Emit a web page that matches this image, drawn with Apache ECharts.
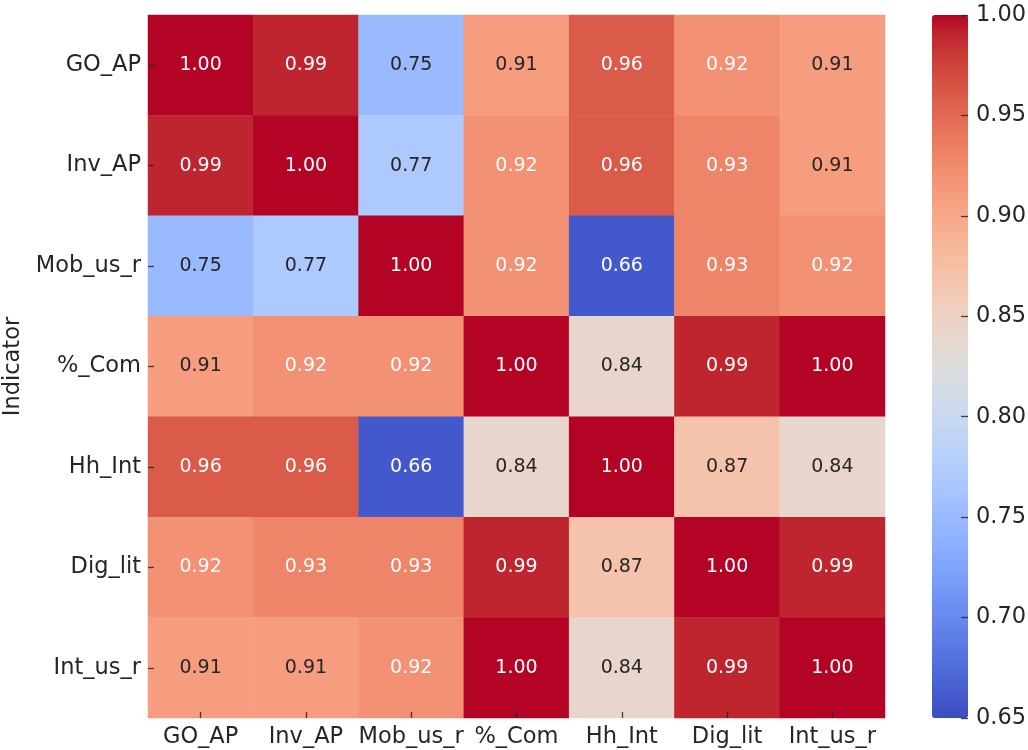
<!DOCTYPE html>
<html>
<head>
<meta charset="utf-8">
<script src="https://cdn.jsdelivr.net/npm/echarts@6/dist/echarts.min.js"></script>
<style>
html,body{margin:0;padding:0;background:#fff;}
#chart{width:1028px;height:750px;}
</style>
</head>
<body>
<div id="chart"></div>
<script>
// ---- data ----
const xCategories = ['GO_AP', 'Inv_AP', 'Mob_us_r', '%_Com', 'Hh_Int', 'Dig_lit', 'Int_us_r'];
const yCategories = ['GO_AP', 'Inv_AP', 'Mob_us_r', '%_Com', 'Hh_Int', 'Dig_lit', 'Int_us_r'];
const rowGO_AP    = [1.00, 0.99, 0.75, 0.91, 0.96, 0.92, 0.91];
const rowInv_AP   = [0.99, 1.00, 0.77, 0.92, 0.96, 0.93, 0.91];
const rowMob_us_r = [0.75, 0.77, 1.00, 0.92, 0.66, 0.93, 0.92];
const rowPct_Com  = [0.91, 0.92, 0.92, 1.00, 0.84, 0.99, 1.00];
const rowHh_Int   = [0.96, 0.96, 0.66, 0.84, 1.00, 0.87, 0.84];
const rowDig_lit  = [0.92, 0.93, 0.93, 0.99, 0.87, 1.00, 0.99];
const rowInt_us_r = [0.91, 0.91, 0.92, 1.00, 0.84, 0.99, 1.00];
const colorbarTicks = [0.65, 0.70, 0.75, 0.80, 0.85, 0.90, 0.95, 1.00];
const vMin = 0.65, vMax = 1.00;
const yAxisTitle = 'Indicator';

// coolwarm colormap stops
const coolwarm = [
 [59,76,192],[68,90,204],[77,104,215],[87,117,225],[98,130,234],[108,142,241],[119,154,247],[130,165,251],
 [141,176,254],[152,185,255],[163,194,255],[174,201,253],[184,208,249],[194,213,244],[204,217,238],[213,219,230],
 [221,221,221],[229,216,209],[236,211,197],[241,204,184],[245,196,172],[247,187,159],[247,177,147],[247,166,134],
 [244,154,123],[241,141,111],[236,127,99],[229,112,89],[222,96,77],[213,80,67],[203,62,56],[192,40,47],[180,4,38]
];
const coolwarmHex = coolwarm.map(c => 'rgb(' + c.join(',') + ')');

function cmap(v) {
  let t = (v - vMin) / (vMax - vMin);
  t = Math.max(0, Math.min(1, t));
  const f = t * (coolwarm.length - 1);
  const i = Math.min(Math.floor(f), coolwarm.length - 2);
  const r = f - i;
  return coolwarm[i].map((c, k) => c + (coolwarm[i + 1][k] - c) * r);
}
function lum(rgb) {
  const l = rgb.map(c => { c /= 255; return c <= 0.03928 ? c / 12.92 : Math.pow((c + 0.055) / 1.055, 2.4); });
  return 0.2126 * l[0] + 0.7152 * l[1] + 0.0722 * l[2];
}

const rows = [rowGO_AP, rowInv_AP, rowMob_us_r, rowPct_Com, rowHh_Int, rowDig_lit, rowInt_us_r];
const data = [];
rows.forEach((row, yi) => {
  row.forEach((v, xi) => {
    data.push({
      value: [xi, yi, v],
      label: { color: lum(cmap(v)) > 0.408 ? '#262626' : '#ffffff' }
    });
  });
});

const FONT = 'DejaVu Sans';
const TICK = { color: 'rgba(38,38,38,0.85)', width: 1.3 };
const chart = echarts.init(document.getElementById('chart'), null, { renderer: 'canvas' });
chart.setOption({
  backgroundColor: '#ffffff',
  animation: false,
  textStyle: { fontFamily: FONT },
  grid: [
    { left: 148, top: 15, width: 737, height: 703, containLabel: false, outerBoundsMode: 'none' },
    { left: 932, top: 15, width: 36, height: 703, containLabel: false, outerBoundsMode: 'none' }
  ],
  xAxis: [
    {
      type: 'category', data: xCategories, gridIndex: 0, z: 10,
      axisLine: { show: false, onZero: false },
      axisTick: { show: true, inside: true, length: 6, alignWithLabel: true, lineStyle: TICK },
      axisLabel: { fontFamily: FONT, fontSize: 22.5, color: '#262626', margin: 8, interval: 0 },
      splitLine: { show: false }
    },
    { type: 'value', gridIndex: 1, show: false, min: 0, max: 1 }
  ],
  yAxis: [
    {
      type: 'category', data: yCategories, gridIndex: 0, inverse: true, z: 10,
      name: yAxisTitle, nameLocation: 'middle', nameRotate: 90, nameGap: 116,
      nameTextStyle: { fontFamily: FONT, fontSize: 22.5, color: '#262626' },
      axisLine: { show: false, onZero: false },
      axisTick: { show: true, inside: true, length: 6, alignWithLabel: true, lineStyle: TICK },
      axisLabel: { fontFamily: FONT, fontSize: 22.5, color: '#262626', margin: 7, interval: 0 },
      splitLine: { show: false }
    },
    {
      type: 'value', gridIndex: 1, position: 'right', min: vMin, max: vMax, interval: 0.05, z: 10,
      axisLine: { show: false, onZero: false },
      splitLine: { show: false },
      axisTick: { show: true, inside: true, length: 7, lineStyle: TICK },
      axisLabel: {
        fontFamily: FONT, fontSize: 22.5, color: '#262626', margin: 8,
        formatter: v => colorbarTicks.some(t => Math.abs(t - v) < 1e-6) ? v.toFixed(2) : ''
      }
    }
  ],
  visualMap: {
    type: 'continuous', seriesIndex: 0, min: vMin, max: vMax,
    calculable: false, realtime: false, hoverLink: false,
    orient: 'vertical', left: 932, top: 15, itemWidth: 36, itemHeight: 703, padding: 0,
    inRange: { color: coolwarmHex },
    textStyle: { color: '#262626' }
  },
  series: [{
    type: 'heatmap', xAxisIndex: 0, yAxisIndex: 0, data: data,
    label: { show: true, fontFamily: FONT, fontSize: 19, formatter: p => p.value[2].toFixed(2) },
    itemStyle: { borderWidth: 0 },
    emphasis: { disabled: true }
  }]
});
</script>
</body>
</html>
